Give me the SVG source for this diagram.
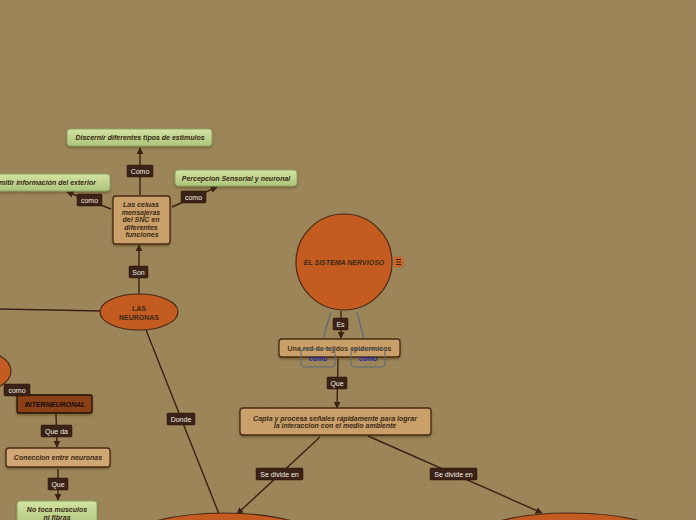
<svg xmlns="http://www.w3.org/2000/svg" width="696" height="520" viewBox="0 0 696 520">
<defs>
<pattern id="dots" width="10" height="10" patternUnits="userSpaceOnUse">
<rect width="10" height="10" fill="#9c8559"/>
<circle cx="5" cy="5" r="0.7" fill="#8d7750"/>
</pattern>
<linearGradient id="green" x1="0" y1="0" x2="0" y2="1">
<stop offset="0" stop-color="#d3e3a3"/>
<stop offset="1" stop-color="#adc47a"/>
</linearGradient>
<marker id="arr" viewBox="0 0 10 10" refX="9" refY="5" markerWidth="5" markerHeight="5" orient="auto">
<path d="M0,0 L10,5 L0,10 z" fill="#3a2214"/>
</marker>
<filter id="sh" x="-10%" y="-20%" width="120%" height="160%">
<feDropShadow dx="0" dy="1.5" stdDeviation="1" flood-color="#3a2a10" flood-opacity="0.45"/>
</filter>
</defs>
<style>
.green{fill:url(#green);stroke:#8aa260;stroke-width:1;filter:url(#sh)}
.tan{fill:#c9a06b;stroke:#4a2a16;stroke-width:1.3;filter:url(#sh)}
.orange{fill:#c45b20;stroke:#4a2a16;stroke-width:1.2}
.nt{font-family:"Liberation Sans",Arial,sans-serif;font-weight:bold;font-style:italic;font-size:7px;fill:#3a2814;text-anchor:middle}
.lb{fill:#3b2216;stroke:#2a1608;stroke-width:0.5}
.lt{font-family:"Liberation Sans",Arial,sans-serif;font-size:7px;fill:#f2ece0;text-anchor:middle}
.ln{stroke:#3a2214;stroke-width:1.4;fill:none}
.la{stroke:#3a2214;stroke-width:1.4;fill:none;marker-end:url(#arr)}
.gl{stroke:#5a6a78;stroke-width:1.2;fill:none}
</style>
<rect width="696" height="520" fill="url(#dots)"/>

<g id="connectors">
<line class="la" x1="140" y1="195" x2="140" y2="148"/>
<line class="la" x1="111" y1="209" x2="67" y2="192"/>
<line class="la" x1="172" y1="207" x2="217" y2="187"/>
<line class="la" x1="139" y1="294" x2="139" y2="245"/>
<line class="ln" x1="0" y1="309" x2="101" y2="311"/>
<line class="ln" x1="146" y1="330" x2="219" y2="514"/>
<line class="gl" x1="331" y1="312" x2="323" y2="339"/>
<line class="gl" x1="357" y1="312" x2="364" y2="339"/>
<line class="la" x1="341" y1="311" x2="341" y2="338"/>
<line class="la" x1="338" y1="359" x2="337" y2="408"/>
<line class="la" x1="320" y1="437" x2="237" y2="514"/>
<line class="la" x1="368" y1="436" x2="542" y2="513"/>
<line class="la" x1="56" y1="414" x2="57" y2="447"/>
<line class="la" x1="58" y1="469" x2="58" y2="500"/>
</g>

<g id="n_bottom_left"><ellipse class="orange" cx="224" cy="552" rx="112" ry="39"/></g>
<g id="n_bottom_right"><ellipse class="orange" cx="570" cy="552" rx="116" ry="39"/></g>
<g id="n_left_partial"><ellipse class="orange" cx="-24" cy="371" rx="35" ry="21"/></g>

<g id="n_discernir"><rect class="green" x="67" y="129" width="145" height="17" rx="3"/><text class="nt" x="140" y="140">Discernir diferentes tipos de estimulos</text></g>
<g id="n_transmitir"><rect class="green" x="-30" y="174" width="140" height="17" rx="3"/><text class="nt" x="38" y="185">Transmitir información del exterior</text></g>
<g id="n_percepcion"><rect class="green" x="175" y="170" width="122" height="16" rx="3"/><text class="nt" x="236" y="181">Percepcion Sensorial y neuronal</text></g>

<g id="n_celulas"><rect class="tan" x="113" y="196" width="57" height="48" rx="3"/>
<text class="nt" x="141" y="207">Las celuas</text>
<text class="nt" x="141" y="214.5">mensajeras</text>
<text class="nt" x="141" y="222">del SNC en</text>
<text class="nt" x="141" y="229.5">diferentes</text>
<text class="nt" x="142" y="237">funciones</text></g>

<g id="n_neuronas"><ellipse class="orange" cx="139" cy="312" rx="39" ry="18"/>
<text class="nt" x="139" y="311" style="font-style:normal">LAS</text>
<text class="nt" x="139" y="319.5" style="font-style:normal">NEURONAS</text></g>

<g id="n_sistema"><circle class="orange" cx="344" cy="262" r="48"/>
<text class="nt" x="344" y="265">EL SISTEMA NERVIOSO</text>
<rect x="394" y="257" width="9" height="10" rx="1" fill="#d0662a" stroke="#b85520" stroke-width="0.5"/>
<g stroke="#3a2214" stroke-width="1"><line x1="396" y1="259.5" x2="401" y2="259.5"/><line x1="396" y1="262" x2="401" y2="262"/><line x1="396" y1="264.5" x2="401" y2="264.5"/></g></g>

<g id="n_red"><rect class="tan" x="279" y="339" width="121" height="18" rx="3"/><text class="nt" x="339.5" y="351" style="font-style:normal;fill:#4a3520">Una red de tejidos epidermicos</text></g>

<g id="n_como1"><rect x="301" y="349" width="34" height="18" rx="3" fill="none" stroke="#5a6a78" stroke-width="1"/><text x="318" y="361" style="font-family:'Liberation Sans',Arial,sans-serif;font-size:7px;font-weight:bold;fill:#1c2aa8;text-anchor:middle">como</text></g>
<g id="n_como2"><rect x="351" y="349" width="34" height="18" rx="3" fill="none" stroke="#5a6a78" stroke-width="1"/><text x="368" y="361" style="font-family:'Liberation Sans',Arial,sans-serif;font-size:7px;font-weight:bold;fill:#1c2aa8;text-anchor:middle">como</text></g>

<g id="n_capta"><rect class="tan" x="240" y="408" width="191" height="27" rx="3"/>
<text class="nt" x="335" y="420.5">Capta y procesa señales rápidamente  para lograr</text>
<text class="nt" x="335" y="428">la interaccion con el medio ambiente</text></g>

<g id="n_interneuronal"><rect x="17" y="395" width="75" height="18" rx="2" fill="#8b3f14" stroke="#1e1008" stroke-width="1.3" filter="url(#sh)"/><text class="nt" x="55" y="406.5" style="fill:#140a04">INTERNEURONAL</text></g>
<g id="n_coneccion"><rect class="tan" x="6" y="448" width="104" height="19" rx="3" style="fill:#cfa775"/><text class="nt" x="58" y="460">Coneccion entre neuronas</text></g>
<g id="n_notoca"><rect class="green" x="17" y="501" width="80" height="26" rx="3"/>
<text class="nt" x="57" y="512">No toca músculos</text>
<text class="nt" x="57" y="519.5">ni fibras</text></g>

<g id="labels">
<rect class="lb" x="127" y="165" width="26" height="12" rx="1"/><text class="lt" x="140" y="174">Como</text>
<rect class="lb" x="77" y="194" width="25" height="12" rx="1"/><text class="lt" x="89.5" y="203">como</text>
<rect class="lb" x="181" y="191" width="25" height="12" rx="1"/><text class="lt" x="193.5" y="200">como</text>
<rect class="lb" x="129" y="266" width="19" height="12" rx="1"/><text class="lt" x="138.5" y="275">Son</text>
<rect class="lb" x="167" y="413" width="28" height="12" rx="1"/><text class="lt" x="181" y="422">Donde</text>
<rect class="lb" x="333" y="318" width="15" height="12" rx="1"/><text class="lt" x="340.5" y="327">Es</text>
<rect class="lb" x="327" y="377" width="20" height="12" rx="1"/><text class="lt" x="337" y="386">Que</text>
<rect class="lb" x="256" y="468" width="47" height="12" rx="1"/><text class="lt" x="279.5" y="477">Se divide en</text>
<rect class="lb" x="430" y="468" width="47" height="12" rx="1"/><text class="lt" x="453.5" y="477">Se divide en</text>
<rect class="lb" x="4" y="384" width="26" height="12" rx="1"/><text class="lt" x="17" y="393">como</text>
<rect class="lb" x="41" y="425" width="31" height="12" rx="1"/><text class="lt" x="56.5" y="434">Que da</text>
<rect class="lb" x="48" y="478" width="20" height="12" rx="1"/><text class="lt" x="58" y="487">Que</text>
</g>
</svg>
